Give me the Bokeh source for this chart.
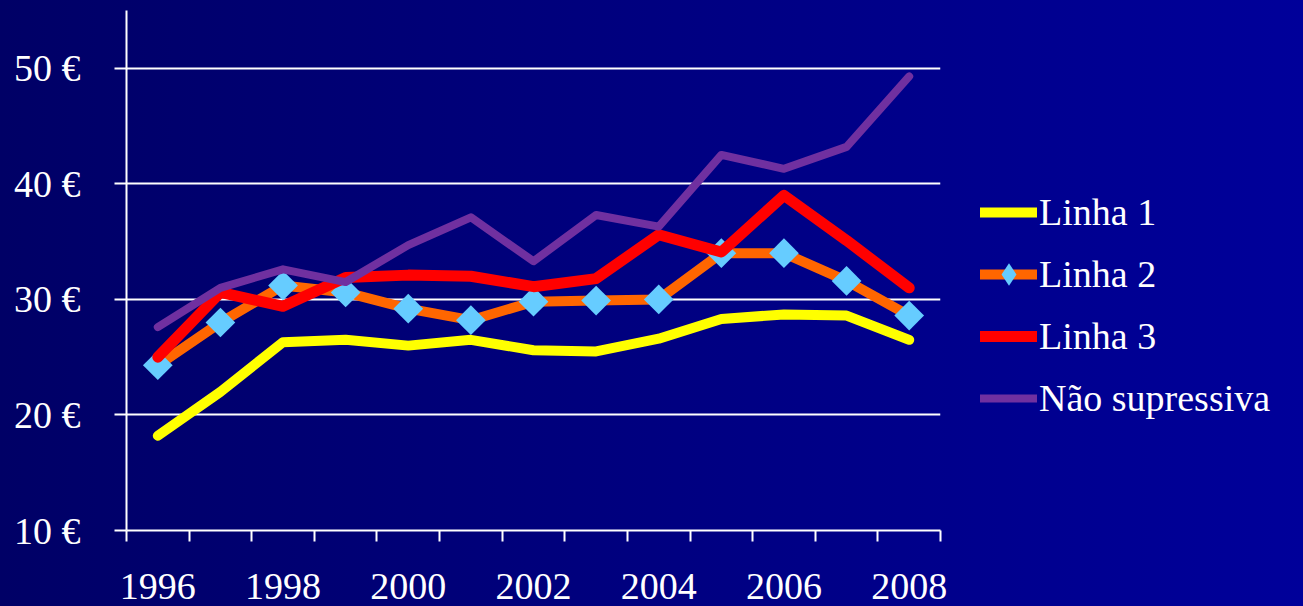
import numpy as np
from bokeh.plotting import figure
from bokeh.layouts import row
from bokeh.models import FixedTicker, Legend, LegendItem
from bokeh.embed import file_html
from bokeh.resources import INLINE

# ---- data ----
years = [1996, 1997, 1998, 1999, 2000, 2001, 2002, 2003, 2004, 2005, 2006, 2007, 2008]
linha1 = [18.2, 22.0, 26.3, 26.5, 26.0, 26.5, 25.6, 25.5, 26.6, 28.3, 28.7, 28.6, 26.5]
linha2 = [24.3, 28.0, 31.2, 30.6, 29.2, 28.2, 29.8, 29.9, 30.0, 34.0, 34.0, 31.6, 28.6]
linha3 = [25.0, 30.6, 29.4, 31.9, 32.1, 32.0, 31.1, 31.8, 35.6, 34.1, 39.0, 35.1, 31.0]
nao_supressiva = [27.6, 31.0, 32.6, 31.5, 34.7, 37.1, 33.3, 37.3, 36.3, 42.5, 41.3, 43.2, 49.3]
series_names = ["Linha 1", "Linha 2", "Linha 3", "Não supressiva"]
y_ticks = [10, 20, 30, 40, 50]
y_tick_labels = ["10 €", "20 €", "30 €", "40 €", "50 €"]
x_label_years = [1996, 1998, 2000, 2002, 2004, 2006, 2008]

FONT = "Liberation Serif"
WHITE = "#FFFFFF"
C1, C2, C2M, C3, C4 = "#FFFF00", "#FF6600", "#66CCFF", "#FF0000", "#7030A0"
W1, W2, W3, W4 = 10, 10, 11, 8

p = figure(width=952, height=606, output_backend="svg", toolbar_location=None,
           x_range=(years[0] - 0.5, years[-1] + 0.5), y_range=(10, 55),
           min_border_left=126, min_border_right=12, min_border_top=10, min_border_bottom=76)
p.background_fill_alpha = 0
p.border_fill_alpha = 0
p.outline_line_alpha = 0

# grid
p.xgrid.visible = False
p.ygrid.ticker = FixedTicker(ticks=y_ticks)
p.ygrid.grid_line_color = WHITE
p.ygrid.grid_line_width = 2

# y axis
ya = p.yaxis[0]
ya.ticker = FixedTicker(ticks=y_ticks)
ya.major_label_overrides = {t: l for t, l in zip(y_ticks, y_tick_labels)}
ya.axis_line_color = WHITE
ya.axis_line_width = 2
ya.major_tick_line_color = WHITE
ya.major_tick_line_width = 2
ya.major_tick_out = 12
ya.major_tick_in = 0
ya.minor_tick_line_color = None
ya.major_label_text_color = WHITE
ya.major_label_text_font = FONT
ya.major_label_text_font_size = "38px"
ya.major_label_standoff = 34

# x axis: labels at category centres, ticks at category boundaries
bounds = [y - 0.5 for y in years] + [years[-1] + 0.5]
xa = p.xaxis[0]
xa.ticker = FixedTicker(ticks=x_label_years, minor_ticks=bounds)
xa.axis_line_color = WHITE
xa.axis_line_width = 2
xa.major_tick_out = 0
xa.major_tick_in = 0
xa.major_tick_line_color = None
xa.minor_tick_line_color = WHITE
xa.minor_tick_line_width = 2
xa.minor_tick_out = 11
xa.minor_tick_in = 0
xa.major_label_text_color = WHITE
xa.major_label_text_font = FONT
xa.major_label_text_font_size = "38px"
xa.major_label_standoff = 32

# series (drawing order as in the original)
kw = dict(line_cap="round", line_join="round")
p.line(years, linha1, line_color=C1, line_width=W1, **kw)
p.line(years, linha2, line_color=C2, line_width=W2, **kw)
p.scatter(years, linha2, marker="square", angle=np.pi / 4, size=21, fill_color=C2M, line_color=None)
p.line(years, linha3, line_color=C3, line_width=W3, **kw)
p.line(years, nao_supressiva, line_color=C4, line_width=W4, **kw)

# legend panel (separate canvas to the right of the plot)
pl = figure(width=351, height=606, output_backend="svg", toolbar_location=None,
            x_axis_type=None, y_axis_type=None, min_border=0,
            x_range=p.x_range, y_range=p.y_range)
pl.background_fill_alpha = 0
pl.border_fill_alpha = 0
pl.outline_line_alpha = 0
pl.grid.visible = False
l1 = pl.line(years, linha1, line_color=C1, line_width=W1, visible=False, **kw)
l2 = pl.line(years, linha2, line_color=C2, line_width=W2, visible=False, **kw)
l2m = pl.scatter(years, linha2, marker="diamond", size=21, fill_color=C2M, line_color=None, visible=False)
l3 = pl.line(years, linha3, line_color=C3, line_width=W3, visible=False, **kw)
l4 = pl.line(years, nao_supressiva, line_color=C4, line_width=W4, visible=False, **kw)

legend = Legend(items=[
    LegendItem(label=series_names[0], renderers=[l1]),
    LegendItem(label=series_names[1], renderers=[l2, l2m]),
    LegendItem(label=series_names[2], renderers=[l3]),
    LegendItem(label=series_names[3], renderers=[l4]),
], location=(28, 104))
legend.background_fill_alpha = 0
legend.border_line_alpha = 0
legend.inactive_fill_alpha = 0
legend.label_text_color = WHITE
legend.label_text_font = FONT
legend.label_text_font_size = "38px"
legend.glyph_width = 57
legend.glyph_height = 56
legend.label_standoff = 2
legend.spacing = 6
legend.padding = 0
legend.margin = 0
pl.add_layout(legend, "center")

layout = row(p, pl, spacing=0)

html = file_html(layout, INLINE, title="chart")
css = ("<style>html{min-height:100%;background:linear-gradient(to right,#000066,#00009a);}"
       "body{background:transparent;}</style>")
html = html.replace("</head>", css + "</head>", 1)
open("out.html", "w").write(html)
